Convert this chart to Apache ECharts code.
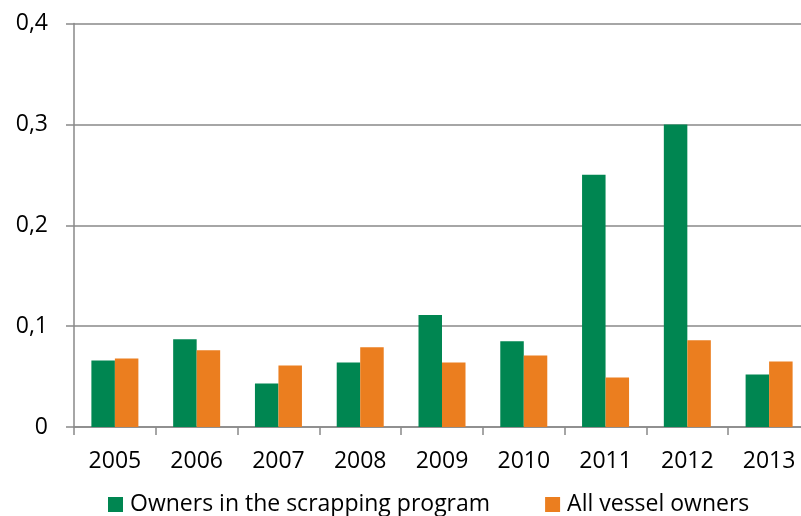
<!DOCTYPE html>
<html><head><meta charset="utf-8">
<script src="https://cdn.jsdelivr.net/npm/echarts@6/dist/echarts.min.js"></script>
<style>html,body{margin:0;padding:0;background:#fff}#c{width:801px;height:516px}</style>
</head><body><div id="c"></div>
<script>
var years = ['2005','2006','2007','2008','2009','2010','2011','2012','2013'];
var scrapping = [0.066, 0.087, 0.043, 0.064, 0.111, 0.085, 0.250, 0.300, 0.052];
var allOwners = [0.068, 0.076, 0.061, 0.079, 0.064, 0.071, 0.049, 0.086, 0.065];
var seriesNames = ['Owners in the scrapping program', 'All vessel owners'];
var yTicks = [0, 0.1, 0.2, 0.3, 0.4];

var font = 'Open Sans';
var chart = echarts.init(document.getElementById('c'), null, {renderer:'canvas'});
chart.setOption({
  animation: false,
  backgroundColor: '#fff',
  grid: {left: 74, width: 736, top: 23.5, height: 403.5, containLabel: false, outerBoundsMode: 'none'},
  legend: {
    left: 108, top: 493, padding: 0,
    icon: 'rect', itemWidth: 15, itemHeight: 15, itemGap: 55,
    textStyle: {fontFamily: font, fontSize: 23, color: '#000', lineHeight: 20, padding: [0,0,0,2]},
    data: seriesNames
  },
  xAxis: {
    type: 'category', data: years,
    axisLine: {lineStyle: {color: '#898989', width: 1.5}},
    axisTick: {show: true, length: 8, lineStyle: {color: '#898989', width: 1.5}},
    axisLabel: {fontFamily: font, fontSize: 23, color: '#000', margin: 23}
  },
  yAxis: {
    type: 'value', min: yTicks[0], max: yTicks[yTicks.length-1], interval: 0.1,
    axisLine: {show: true, lineStyle: {color: '#898989', width: 1.5}},
    axisTick: {show: true, length: 8, lineStyle: {color: '#898989', width: 1.5}},
    splitLine: {lineStyle: {color: '#898989', width: 1.5}},
    axisLabel: {fontFamily: font, fontSize: 23, color: '#000', margin: 26,
      formatter: function(v){ return v === 0 ? '0' : v.toFixed(1).replace('.', ','); }}
  },
  series: [
    {name: seriesNames[0], type: 'bar', data: scrapping, barWidth: 23.5, barGap: '0%',
     itemStyle: {color: '#008651'}},
    {name: seriesNames[1], type: 'bar', data: allOwners, barWidth: 23.5, barGap: '0%',
     itemStyle: {color: '#EB7E1F'}}
  ]
});
</script></body></html>
